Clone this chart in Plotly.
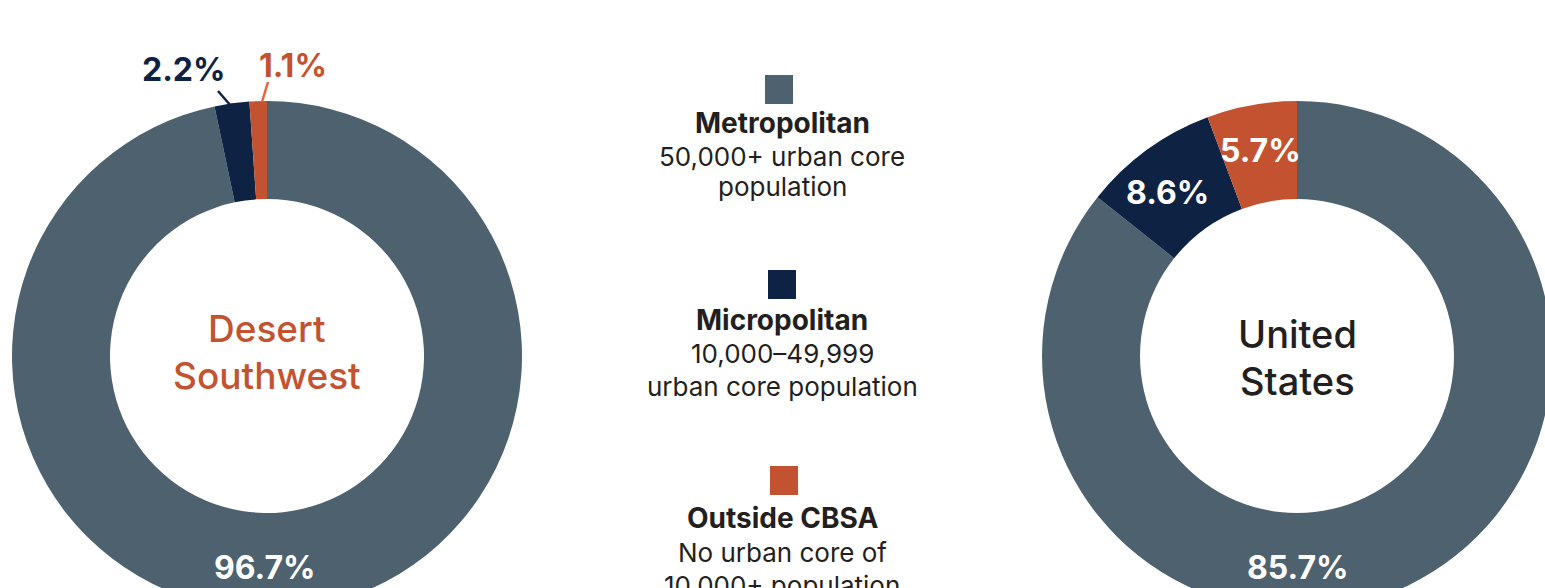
import plotly.graph_objects as go

# ---- data ----
categories = ["Metropolitan", "Micropolitan", "Outside CBSA"]
descriptions = [["50,000+ urban core", "population"],
                ["10,000–49,999", "urban core population"],
                ["No urban core of", "10,000+ population"]]
desert_sw = [96.7, 2.2, 1.1]
united_states = [85.7, 8.6, 5.7]
region_names = [["Desert", "Southwest"], ["United", "States"]]

colors = ["#4d626e", "#0e2343", "#c35330"]
dark = "#231f20"
FONT = "Inter"

W, H = 1600, 720          # page is cropped by the 1545x588 window
R_OUT, R_IN = 255, 157
centers = [(267, 356), (1297, 356)]


def px(x):
    return x / W


def py(y):
    return 1 - y / H


fig = go.Figure()
for (cx, cy), vals in zip(centers, [desert_sw, united_states]):
    fig.add_trace(go.Pie(
        labels=categories, values=vals, sort=False, direction="clockwise",
        rotation=0, hole=R_IN / R_OUT, textinfo="none",
        marker=dict(colors=colors, line=dict(width=0)),
        domain=dict(x=[px(cx - R_OUT), px(cx + R_OUT)],
                    y=[py(cy + R_OUT), py(cy - R_OUT)]),
        showlegend=False, hoverinfo="label+percent"))

ann = []
# center titles
title_style = [(267, [329, 375], "#c35330", 37), (1297, [334, 381], dark, 38)]
for lines, (x, ys, c, s) in zip(region_names, title_style):
    for t, y in zip(lines, ys):
        ann.append(dict(x=px(x), y=py(y), text=t,
                        font=dict(family=FONT, size=s, color=c, weight=500)))

# value labels: (pixel x, pixel y, colour)
label_pos = [
    [(265, 567, "white"), (184, 70, colors[1]), (293, 65, colors[2])],
    [(1298, 567, "white"), (1167, 193, "white"), (1260, 150, "white")],
]
for vals, poss in zip([desert_sw, united_states], label_pos):
    for v, (x, y, c) in zip(vals, poss):
        ann.append(dict(x=px(x), y=py(y), text=f"<b>{v:.1f}%</b>",
                        font=dict(family=FONT, size=32, color=c)))

# legend
sq = [(765, 75), (768, 270), (770, 466)]
line_y = [[123, 156, 187], [320, 353, 386], [518, 552, 585]]
shapes = []
for (sx, sy), name, desc, c, ys in zip(sq, categories, descriptions, colors, line_y):
    shapes.append(dict(type="rect", xref="paper", yref="paper",
                       x0=px(sx), x1=px(sx + 28), y0=py(sy + 29), y1=py(sy),
                       fillcolor=c, line=dict(width=0)))
    ann.append(dict(x=px(782), y=py(ys[0]), text=f"<b>{name}</b>",
                    font=dict(family=FONT, size=28, color=dark)))
    for t, y in zip(desc, ys[1:]):
        ann.append(dict(x=px(782), y=py(y), text=t,
                        font=dict(family=FONT, size=26, color=dark)))

# leader lines for small slices
shapes.append(dict(type="line", xref="paper", yref="paper",
                   x0=px(218), y0=py(91), x1=px(231), y1=py(106),
                   line=dict(color=colors[1], width=2.5)))
shapes.append(dict(type="line", xref="paper", yref="paper",
                   x0=px(268), y0=py(82), x1=px(262), y1=py(102),
                   line=dict(color="#e8643a", width=2.5)))

for a in ann:
    a.update(xref="paper", yref="paper", xanchor="center", yanchor="middle",
             showarrow=False)

fig.update_layout(width=W, height=H, margin=dict(l=0, r=0, t=0, b=0),
                  paper_bgcolor="white", plot_bgcolor="white",
                  annotations=ann, shapes=shapes)

fig.write_html("out.html", config={"displayModeBar": False},
               post_script="document.body.style.margin='0';"
                           "document.body.style.overflow='hidden';"
                           "document.documentElement.style.overflow='hidden';")
